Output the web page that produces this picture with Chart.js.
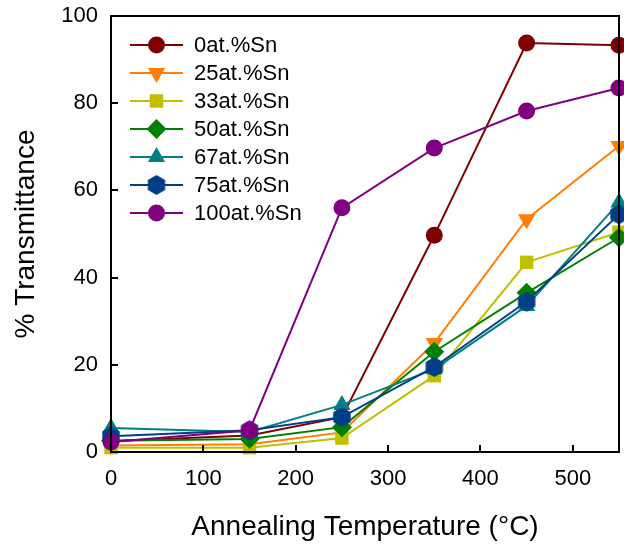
<!DOCTYPE html>
<html>
<head>
<meta charset="utf-8">
<script src="https://cdn.jsdelivr.net/npm/chart.js@4.4.1/dist/chart.umd.min.js"></script>
<style>
  body { margin: 0; background: #fff; }
  #wrap { width: 624px; height: 546px; }
</style>
</head>
<body>
<div id="wrap"><canvas id="chart" width="624" height="546"></canvas></div>
<script>
// annealing temperatures (°C)
const temps = [0, 150, 250, 350, 450, 550];

const sn0   = [2.5, 3.8, 8.0, 49.7, 93.8, 93.3];
const sn25  = [1.5, 1.8, 4.5, 25.0, 53.4, 70.2];
const sn33  = [1.0, 1.0, 3.2, 17.5, 43.5, 50.4];
const sn50  = [2.6, 3.0, 5.7, 23.0, 36.5, 49.2];
const sn67  = [5.5, 4.6, 10.8, 19.0, 33.5, 57.2];
const sn75  = [3.6, 5.0, 8.0, 19.5, 34.5, 54.5];
const sn100 = [2.3, 5.0, 56.0, 69.7, 78.2, 83.5];

const xTicks = [0, 100, 200, 300, 400, 500];
const yTicks = [0, 20, 40, 60, 80, 100];

const FONT = '"Liberation Sans", Arial, sans-serif';

function hexagon(color, r) {
    let c = document.createElement('canvas');
    c.width = c.height = Math.ceil(r * 2) + 2;
    let g = c.getContext('2d');
    let cx = c.width / 2, cy = c.height / 2;
    g.beginPath();
    for (let i = 0; i < 6; i++) {
        let a = Math.PI / 2 + i * Math.PI / 3;
        g.lineTo(cx + r * Math.cos(a), cy - r * Math.sin(a));
    }
    g.closePath();
    g.fillStyle = color;
    g.fill();
    return c;
}

function series(label, data, color, style, radius, rotation) {
    return {
        label: label,
        data: temps.map((t, i) => ({ x: t, y: data[i] })),
        borderColor: color,
        backgroundColor: color,
        pointBackgroundColor: color,
        pointBorderColor: color,
        borderWidth: 2,
        pointStyle: style,
        pointRadius: radius,
        pointBorderWidth: 0,
        pointRotation: rotation || 0,
        tension: 0,
        clip: false
    };
}

const datasets = [
    series('0at.%Sn', sn0, '#7f0000', 'circle', 8.5),
    series('25at.%Sn', sn25, '#ff8000', 'triangle', 10, 180),
    series('33at.%Sn', sn33, '#c0c000', 'rect', 9.5),
    series('50at.%Sn', sn50, '#008000', 'rectRot', 10),
    series('67at.%Sn', sn67, '#008080', 'triangle', 10),
    series('75at.%Sn', sn75, '#003f87', hexagon('#003f87', 10), 10),
    series('100at.%Sn', sn100, '#800080', 'circle', 8.5)
];
// later series sit on top
datasets.forEach((d, i) => d.order = datasets.length - 1 - i);

// box around the plot, inward ticks and the line+marker legend
const framePlugin = {
    id: 'frame',
    afterDatasetsDraw(chart) {
        const ctx = chart.ctx, a = chart.chartArea;
        const xs = chart.scales.x, ys = chart.scales.y;
        ctx.save();
        ctx.strokeStyle = '#000';
        ctx.lineWidth = 2;
        ctx.strokeRect(a.left, a.top, a.right - a.left, a.bottom - a.top);
        ctx.beginPath();
        xTicks.forEach(v => {
            let px = Math.round(xs.getPixelForValue(v));
            ctx.moveTo(px, a.bottom);
            ctx.lineTo(px, a.bottom - 7);
        });
        yTicks.forEach(v => {
            let py = Math.round(ys.getPixelForValue(v));
            ctx.moveTo(a.left, py);
            ctx.lineTo(a.left + 7, py);
        });
        ctx.stroke();

        // legend
        let x0 = 130, x1 = 183, y = 45;
        ctx.font = '22px ' + FONT;
        ctx.textBaseline = 'middle';
        ctx.textAlign = 'left';
        chart.data.datasets.forEach(d => {
            ctx.strokeStyle = d.borderColor;
            ctx.lineWidth = 2;
            ctx.beginPath();
            ctx.moveTo(x0, y);
            ctx.lineTo(x1, y);
            ctx.stroke();
            ctx.fillStyle = d.pointBackgroundColor;
            ctx.strokeStyle = d.pointBorderColor;
            Chart.helpers.drawPoint(ctx, {
                pointStyle: d.pointStyle,
                rotation: d.pointRotation,
                radius: d.pointRadius,
                borderWidth: 0
            }, (x0 + x1) / 2, y);
            ctx.fillStyle = '#000';
            ctx.fillText(d.label, 194, y + 1);
            y += 28;
        });
        ctx.restore();
    }
};

new Chart(document.getElementById('chart'), {
    type: 'line',
    data: { datasets: datasets },
    options: {
        responsive: false,
        animation: false,
        layout: { autoPadding: false, padding: { top: 16, right: 5, left: 0, bottom: 0 } },
        plugins: { legend: { display: false }, tooltip: { enabled: false } },
        scales: {
            x: {
                type: 'linear',
                min: 0, max: 550,
                afterBuildTicks: s => { s.ticks = xTicks.map(v => ({ value: v })); },
                afterFit: s => { s.height = 94; s.paddingLeft = 0; s.paddingRight = 0; },
                grid: { display: false },
                border: { display: false },
                ticks: { color: '#000', font: { family: FONT, size: 22 }, padding: 6, maxRotation: 0 },
                title: { display: true, text: 'Annealing Temperature (°C)', color: '#000',
                         font: { family: FONT, size: 28 }, padding: { top: 4, bottom: 2 } }
            },
            y: {
                min: 0, max: 100,
                afterBuildTicks: s => { s.ticks = yTicks.map(v => ({ value: v })); },
                afterFit: s => { s.width = 111; s.paddingTop = 0; s.paddingBottom = 0; },
                grid: { display: false },
                border: { display: false },
                ticks: { color: '#000', font: { family: FONT, size: 22 }, padding: 5 },
                title: { display: true, text: '% Transmittance', color: '#000',
                         font: { family: FONT, size: 28 }, padding: { top: 9, bottom: 0 } }
            }
        }
    },
    plugins: [framePlugin]
});
</script>
</body>
</html>
